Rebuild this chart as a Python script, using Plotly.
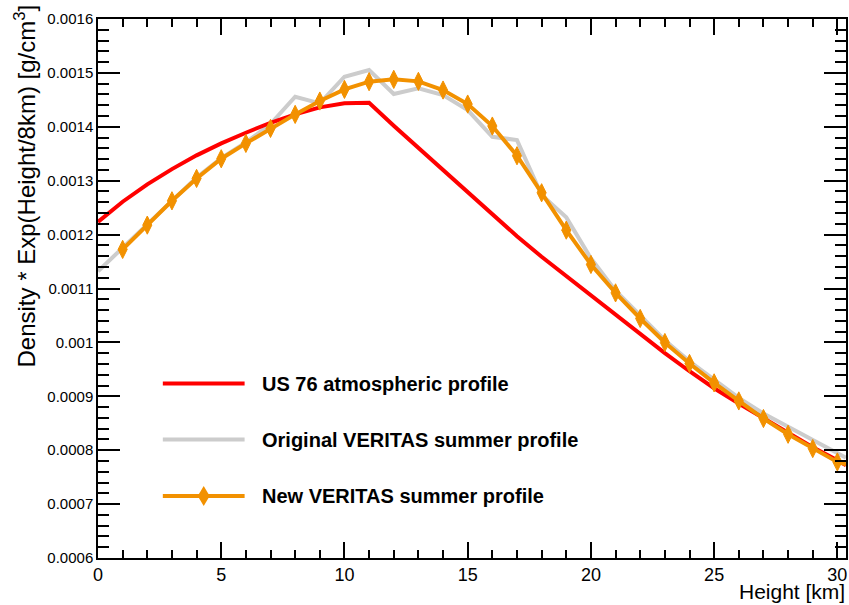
import plotly.graph_objects as go

# Heights [km]
h_us76 = list(range(0, 31)) + [30.35]
rho_us76 = [0.0012236, 0.0012610, 0.0012931, 0.0013215, 0.0013470, 0.0013692, 0.0013890,
            0.0014075, 0.0014230, 0.0014361, 0.0014435, 0.0014447, 0.0014020, 0.0013610,
            0.0013200, 0.0012800, 0.0012370, 0.0011970, 0.0011590, 0.0011230, 0.0010877,
            0.0010520, 0.0010165, 0.0009800, 0.0009465, 0.0009150, 0.0008866, 0.0008600,
            0.0008320, 0.0008055, 0.0007814, 0.0007720]

h_orig = list(range(0, 31)) + [30.35]
rho_orig = [0.0011320, 0.0011760, 0.0012200, 0.0012640, 0.0013060, 0.0013420, 0.0013710,
            0.0014050, 0.0014558, 0.0014435, 0.0014929, 0.0015053, 0.0014608, 0.0014713,
            0.0014589, 0.0014311, 0.0013815, 0.0013754, 0.0012733, 0.0012320, 0.0011560,
            0.0010960, 0.0010500, 0.0010040, 0.0009650, 0.0009300, 0.0008970, 0.0008680,
            0.0008430, 0.0008185, 0.0007940, 0.0007860]

h_new = list(range(1, 31)) + [30.35]
rho_new = [0.0011725, 0.0012176, 0.0012627, 0.0013042, 0.0013407, 0.0013692, 0.0013970,
           0.0014230, 0.0014478, 0.0014694, 0.0014837, 0.0014880, 0.0014843, 0.0014682,
           0.0014422, 0.0014014, 0.0013463, 0.0012776, 0.0012083, 0.0011446, 0.0010919,
           0.0010444, 0.0009998, 0.0009609, 0.0009249, 0.0008914, 0.0008588, 0.0008296,
           0.0008031, 0.0007782, 0.0007740]
new_marker_h = list(range(1, 31))
new_marker_rho = rho_new[:30]

y_tickvals = [0.0006, 0.0007, 0.0008, 0.0009, 0.0010, 0.0011, 0.0012, 0.0013, 0.0014, 0.0015, 0.0016]
y_ticktext = ["0.0006", "0.0007", "0.0008", "0.0009", "0.001", "0.0011", "0.0012",
              "0.0013", "0.0014", "0.0015", "0.0016"]
x_tickvals = [0, 5, 10, 15, 20, 25, 30]
x_ticktext = ["0", "5", "10", "15", "20", "25", "30"]

legend_labels = ["US 76 atmospheric profile", "Original VERITAS summer profile",
                 "New VERITAS summer profile"]

RED = "#ff0000"
GRAY = "#cccccc"
ORANGE = "#f29100"
FONT = "Liberation Sans, Arial, Helvetica, sans-serif"

fig = go.Figure()
fig.add_trace(go.Scatter(x=h_orig, y=rho_orig, mode="lines",
                         line=dict(color=GRAY, width=4), showlegend=False))
fig.add_trace(go.Scatter(x=h_us76, y=rho_us76, mode="lines",
                         line=dict(color=RED, width=4), showlegend=False))
fig.add_trace(go.Scatter(x=h_new, y=rho_new, mode="lines",
                         line=dict(color=ORANGE, width=4), showlegend=False))
fig.add_trace(go.Scatter(x=new_marker_h, y=new_marker_rho, mode="markers",
                         marker=dict(symbol="diamond-tall", size=13, color=ORANGE,
                                     line=dict(color=ORANGE, width=1)),
                         showlegend=False))

W, H = 849, 605
L, R, T, B = 98, 1, 19, 47

axis_common = dict(showgrid=False, zeroline=False, showline=True, linecolor="black",
                   linewidth=1.5, mirror="allticks", ticks="inside", tickcolor="black",
                   tickwidth=1.5)

fig.update_xaxes(range=[0, 30.35], tickmode="array", tickvals=x_tickvals, ticktext=x_ticktext,
                 ticklen=16, tickfont=dict(family=FONT, size=18, color="black"),
                 minor=dict(dtick=1, tick0=0, ticks="inside", ticklen=8, tickcolor="black",
                            tickwidth=1.5, showgrid=False),
                 **axis_common)
fig.update_yaxes(range=[0.0006, 0.0016], tickmode="array", tickvals=y_tickvals, ticktext=y_ticktext,
                 ticklen=22, tickfont=dict(family=FONT, size=15, color="black"),
                 minor=dict(dtick=0.00002, tick0=0.0006, ticks="inside", ticklen=11,
                            tickcolor="black", tickwidth=1.5, showgrid=False),
                 **axis_common)

# Axis titles
fig.add_annotation(xref="paper", yref="paper", x=1.0, xshift=1, y=0, yshift=-47,
                   xanchor="right", yanchor="bottom", showarrow=False,
                   text="Height [km]", font=dict(family=FONT, size=21, color="black"))
fig.add_annotation(xref="paper", yref="paper", x=0, xshift=-74, y=1.0, yshift=16,
                   xanchor="center", yanchor="top", textangle=-90, showarrow=False,
                   text="Density * Exp(Height/8km) [g/cm<sup>3</sup>]",
                   font=dict(family=FONT, size=24, color="black"))

# Manual legend
pw = W - L - R
ph = H - T - B
def px2x(px):
    return (px - L) / pw
def py2y(py):
    return 1 - (py - T) / ph

leg_rows = [383.5, 439.5, 496]
leg_colors = [RED, GRAY, ORANGE]
for row_y, col, lab in zip(leg_rows, leg_colors, legend_labels):
    fig.add_shape(type="line", xref="paper", yref="paper",
                  x0=px2x(163), x1=px2x(245), y0=py2y(row_y), y1=py2y(row_y),
                  line=dict(color=col, width=4))
    fig.add_annotation(xref="paper", yref="paper", x=px2x(260), y=py2y(row_y),
                       xanchor="left", yanchor="middle", showarrow=False,
                       text="<b>%s</b>" % lab, font=dict(family=FONT, size=20, color="black"))
# diamond marker in the legend
cx, cy = 204, leg_rows[2]
fig.add_shape(type="path", xref="paper", yref="paper",
              path="M %f,%f L %f,%f L %f,%f L %f,%f Z" % (
                  px2x(cx), py2y(cy - 10), px2x(cx + 6), py2y(cy),
                  px2x(cx), py2y(cy + 10), px2x(cx - 6), py2y(cy)),
              fillcolor=ORANGE, line=dict(color=ORANGE, width=0))

fig.update_layout(width=W, height=H, margin=dict(l=L, r=R, t=T, b=B),
                  plot_bgcolor="white", paper_bgcolor="white", showlegend=False,
                  font=dict(family=FONT, color="black"))

fig.write_html("out.html")
